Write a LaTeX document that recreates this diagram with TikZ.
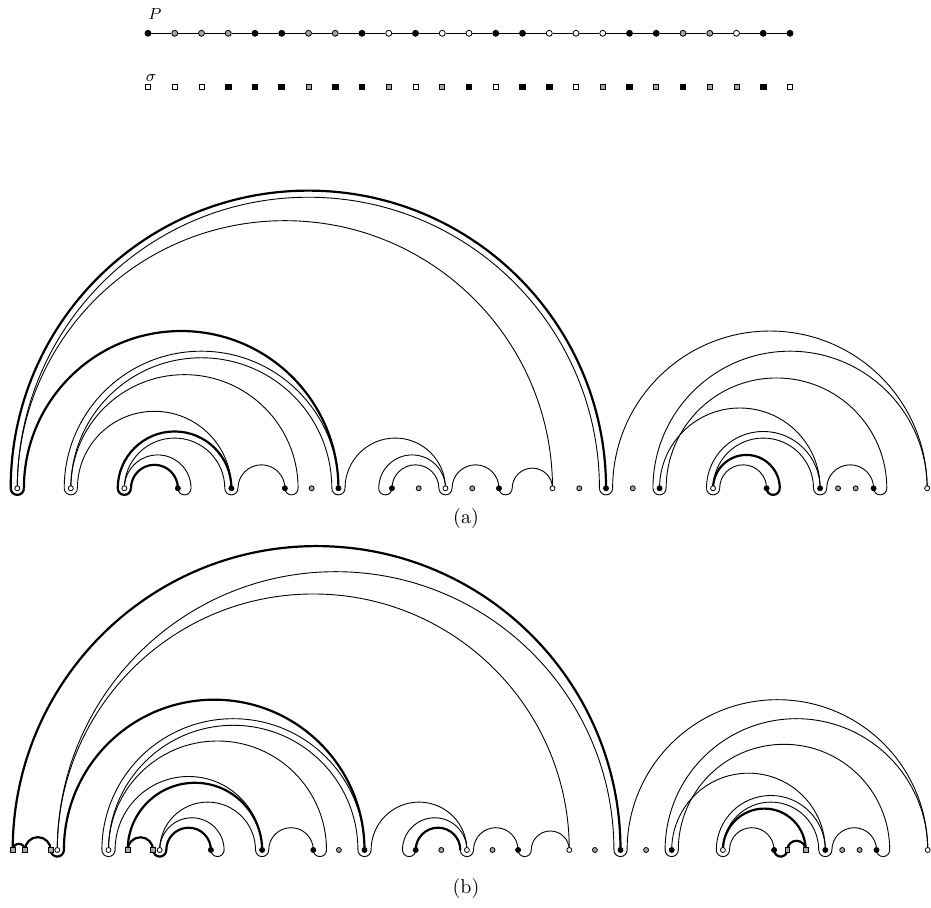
\documentclass[tikz,border=0pt]{standalone}
\usepackage{tikz}
\usetikzlibrary{calc,backgrounds}
\colorlet{cB}{black}
\colorlet{cG}{black!35}
\colorlet{cW}{white}
\tikzset{
  vtx/.style={circle,draw,inner sep=0pt,minimum size=2.5pt,line width=0.4pt},
  % squares of sigma
  sq/.style={rectangle,draw,inner sep=0pt,minimum size=2.4pt,line width=0.4pt},
  sqbig/.style={rectangle,fill=black,inner sep=0pt,minimum size=3.3pt},
  % curves
  thinc/.style={line width=0.45pt},
  thickc/.style={line width=1.1pt},
}
\newcommand{\toparc}[3][thinc]{%
  \draw[#1] let \p1=(#2),\p2=(#3) in (\p1) arc[start angle=180,end angle=0,radius={0.5*(\x2-\x1)}];}
\newcommand{\lowarc}[3][thinc]{%
  \draw[#1] let \p1=(#2),\p2=(#3) in (\p1) arc[start angle=180,end angle=360,radius={0.5*(\x2-\x1)}];}

\begin{document}
\begin{tikzpicture}[x=0.5pt,y=0.5pt,
  every node/.style={font=\normalsize},
  lab/.style={font=\footnotesize,inner sep=0pt},
]
\useasboundingbox (0,0) rectangle (931,908);

% the path P
\foreach \c [count=\i from 0] in {B,G,G,G,B,B,G,G,B,W,B,W,W,B,B,W,W,W,B,B,G,G,W,B,B}
  \node[vtx,minimum size=3pt,fill=c\c] (p\i) at ({148+26.75*\i},874.7) {};
\foreach \i [count=\j] in {0,...,23}
  \draw[line width=0.45pt] (p\i) -- (p\j);
\node[lab] (Plab) at (155,894) {$P$};

% the word sigma
\foreach \i/\c in {0/W,1/W,2/W,6/G,9/G,10/W,11/G,13/W,16/W,17/G,19/G,21/G,22/G,24/W}
  \node[sq,fill=c\c] (q\i) at ({148+26.75*\i},821) {};
\foreach \i in {3,4,5,7,8,12,14,15,18,20,23}
  \node[sqbig] (q\i) at ({148+26.75*\i},821) {};
\node[lab] (slab) at (151,830) {$\sigma$};

% (a)
\foreach \k/\c in {0/W,2/W,4/W,6/B,8/B,10/B,12/B,14/B,16/W,18/B,20/W,22/B,24/B,26/W,28/B,30/B,32/B,34/W}
  \node[vtx,fill=c\c] (a\k) at ({17.3+26.76*\k},419.7) {};
\foreach \k [count=\i] in {11,15,17,21,23,30.67,31.33}
  \node[vtx,fill=cG] (ag\i) at ({17.3+26.76*\k},419.7) {};
\foreach \k in {0,2,...,34} {
  \coordinate (a\k-l) at ([xshift=-3.3pt]a\k.center);
  \coordinate (a\k-r) at ([xshift=3.3pt]a\k.center);
  \coordinate (a\k-ll) at ([xshift=-6.6pt]a\k.center);
  \coordinate (a\k-rr) at ([xshift=6.6pt]a\k.center);
}
\node (alab) at (466,389) {(a)};

% (b)
\foreach \k/\c in {0/W,1/W,2/W,3/B,4/B,5/B,6/B,7/B,8/W,9/B,10/W,11/B,12/B,13/W,14/B,15/B,16/B,17/W}
  \node[vtx,fill=c\c] (b\k) at ({57.3+51.2*\k},58) {};
\foreach \k [count=\i] in {5.5,7.5,8.5,10.5,11.5,15.33,15.67}
  \node[vtx,fill=cG] (bg\i) at ({57.3+51.2*\k},58) {};
\foreach \k in {0,...,17} {
  \coordinate (b\k-l) at ([xshift=-3.3pt]b\k.center);
  \coordinate (b\k-r) at ([xshift=3.3pt]b\k.center);
  \coordinate (b\k-ll) at ([xshift=-6.6pt]b\k.center);
  \coordinate (b\k-rr) at ([xshift=6.6pt]b\k.center);
}
\node[sq,fill=cG] (bs1) at (12.7,58) {};
\node[sq,fill=cG] (bs2) at (25,58) {};
\node[sq,fill=cG] (bs3) at (b0-l) {};
\node[sq,fill=cG] (bs4) at (127.7,58) {};
\node[sq,fill=cG] (bs5) at (b2-l) {};
\node[sq,fill=cG] (bs6) at (b14-rr) {};
\node[sq,fill=cG] (bs7) at (805.7,58) {};
\node (blab) at (466,19) {(b)};

\begin{scope}[on background layer]
% (a) thick curves
\toparc[thickc]{a0-l}{a22}
\lowarc[thickc]{a0-l}{a0-r}
\toparc[thickc]{a0-r}{a12}
\toparc[thickc]{a4-l}{a8}
\lowarc[thickc]{a4-l}{a4-r}
\toparc[thickc]{a4-r}{a6}
\toparc[thickc]{a26}{a28-rr}
\lowarc[thickc]{a28}{a28-rr}
% (a) thin curves
\toparc{a0}{a22-l}
\toparc{a0}{a20}
\toparc{a2-l}{a12}
\toparc{a2}{a12-l}
\toparc{a2}{a10-rr}
\toparc{a2-r}{a8}
\lowarc{a2-l}{a2-r}
\lowarc{a8-l}{a8-r}
\toparc{a8-r}{a10}
\lowarc{a10}{a10-rr}
\toparc{a4}{a8-l}
\toparc{a4}{a6-rr}
\lowarc{a6}{a6-rr}
\lowarc{a12-l}{a12-r}
\toparc{a12-r}{a16}
\toparc{a14-ll}{a16}
\lowarc{a14-ll}{a14}
\toparc{a14}{a16-l}
\lowarc{a16-l}{a16-r}
\toparc{a16-r}{a18}
\lowarc{a18}{a18-rr}
\toparc{a18-rr}{a20}
\lowarc{a22-l}{a22-r}
\toparc{a22-r}{a34}
\toparc{a24-l}{a34}
\toparc{a24-r}{a32-rr}
\toparc{a24}{a30}
\lowarc{a24-l}{a24-r}
\toparc{a26-l}{a30}
\toparc{a26}{a30-l}
\toparc{a26-r}{a28}
\lowarc{a26-l}{a26-r}
\lowarc{a30-l}{a30-r}
\toparc{a30-r}{a32}
\lowarc{a32}{a32-rr}

% (b) thick curves
\toparc[thickc]{bs1}{b11}
\toparc[thickc]{bs1}{bs2}
\toparc[thickc]{bs2}{bs3}
\lowarc[thickc]{bs3}{b0-r}
\toparc[thickc]{b0-r}{b6}
\toparc[thickc]{bs4}{b4}
\toparc[thickc]{bs4}{bs5}
\lowarc[thickc]{bs5}{b2-r}
\toparc[thickc]{b2-r}{b3}
\toparc[thickc]{b7}{b8-l}
\toparc[thickc]{b13}{bs7}
\toparc[thickc]{bs6}{bs7}
\lowarc[thickc]{b14}{bs6}
% (b) thin curves
\toparc{b0}{b11-l}
\toparc{b0}{b10}
\toparc{b1-l}{b6}
\toparc{b1}{b6-l}
\toparc{b1}{b5-rr}
\toparc{b1-r}{b4}
\lowarc{b1-l}{b1-r}
\lowarc{b4-l}{b4-r}
\toparc{b4-r}{b5}
\lowarc{b5}{b5-rr}
\toparc{b2}{b4-l}
\toparc{b2}{b3-rr}
\lowarc{b3}{b3-rr}
\lowarc{b6-l}{b6-r}
\toparc{b6-r}{b8}
\toparc{b7-ll}{b8}
\lowarc{b7-ll}{b7}
\lowarc{b8-l}{b8-r}
\toparc{b8-r}{b9}
\lowarc{b9}{b9-rr}
\toparc{b9-rr}{b10}
\lowarc{b11-l}{b11-r}
\toparc{b11-r}{b17}
\toparc{b12-l}{b17}
\toparc{b12-r}{b16-rr}
\toparc{b12}{b15}
\lowarc{b12-l}{b12-r}
\toparc{b13-l}{b15}
\toparc{b13}{b15-l}
\toparc{b13-r}{b14}
\lowarc{b13-l}{b13-r}
\lowarc{b15-l}{b15-r}
\toparc{b15-r}{b16}
\lowarc{b16}{b16-rr}
\end{scope}
\end{tikzpicture}
\end{document}
